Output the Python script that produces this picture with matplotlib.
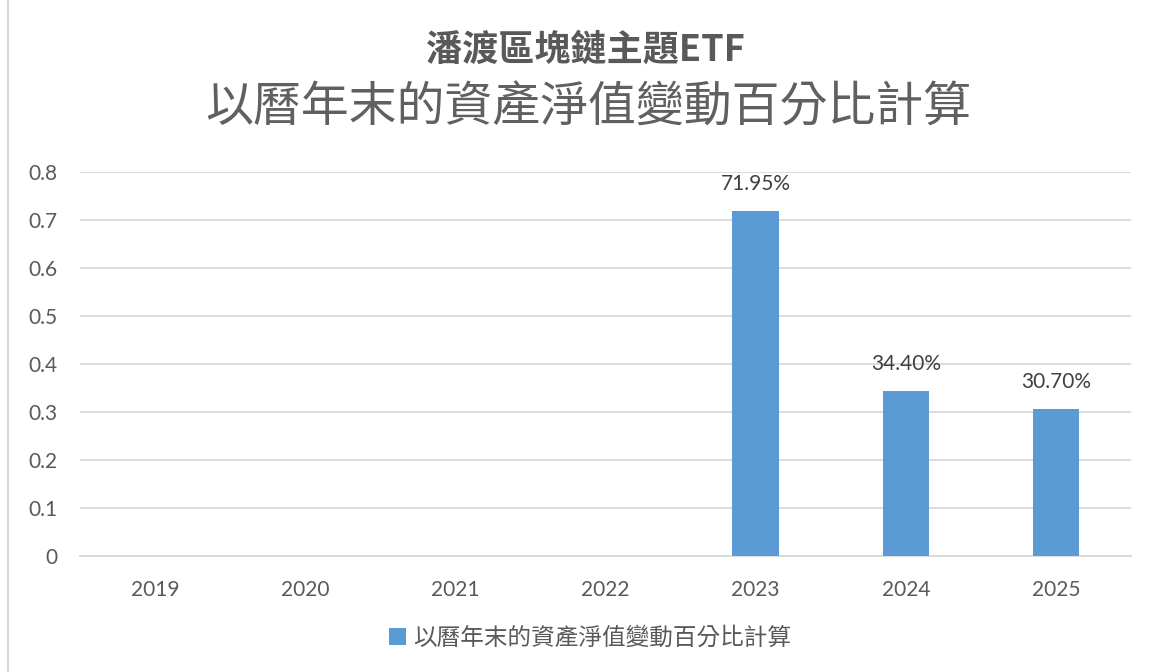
import matplotlib
matplotlib.use("Agg")
import matplotlib.pyplot as plt
from matplotlib.patches import Rectangle

years = ["2019", "2020", "2021", "2022", "2023", "2024", "2025"]
values = [0, 0, 0, 0, 0.7195, 0.344, 0.307]
labels = ["", "", "", "", "71.95%", "34.40%", "30.70%"]
title1 = "潘渡區塊鏈主題ETF"
title2 = "以曆年末的資產淨值變動百分比計算"
series_name = "以曆年末的資產淨值變動百分比計算"
yticks = [0, 0.1, 0.2, 0.3, 0.4, 0.5, 0.6, 0.7, 0.8]

CJK = ["Noto Sans CJK TC", "DejaVu Sans"]
NUM = ["Lato", "DejaVu Sans"]
TXT = "#595959"
W, H = 1151, 672

fig = plt.figure(figsize=(W / 100, H / 100), dpi=100)
fig.patch.set_facecolor("white")

# chart border (left edge visible)
fig.add_artist(Rectangle((8 / W, -0.01), 1.2, 1.02, transform=fig.transFigure,
                         fill=False, edgecolor="#d0d0d0", lw=1.2))

ax = fig.add_axes([80 / W, 1 - 556 / H, (1131 - 80) / W, (556 - 172) / H])
x = list(range(len(years)))
bars = ax.bar(x, values, width=0.31, color="#5b9bd5", zorder=3,
              label=series_name)
ax.set_xlim(-0.5, len(years) - 0.5)
ax.set_ylim(0, 0.8)
ax.set_yticks(yticks)
ax.set_yticklabels([("%g" % v) for v in yticks], fontfamily=NUM, fontsize=15, color=TXT)
ax.set_xticks(x)
ax.set_xticklabels(years, fontfamily=NUM, fontsize=15, color=TXT)
ax.tick_params(axis="both", length=0)
ax.tick_params(axis="y", pad=16)
ax.tick_params(axis="x", pad=17)
ax.grid(axis="y", color="#d9d9d9", lw=1.3, zorder=0)
for s in ["top", "right", "left"]:
    ax.spines[s].set_visible(False)
ax.spines["bottom"].set_color("#d9d9d9")
ax.spines["bottom"].set_linewidth(1.3)

for xi, v, lab in zip(x, values, labels):
    if lab:
        ax.annotate(lab, (xi, v), xytext=(0, 12), textcoords="offset points",
                    ha="center", va="bottom", fontfamily=NUM, fontsize=15, color="#404040")

fig.text(585 / W, 1 - 50 / H, title1, ha="center", va="center", fontfamily=CJK,
         fontsize=26, fontweight="bold", color=TXT)
fig.text(588 / W, 1 - 108 / H, title2, ha="center", va="center", fontfamily=CJK,
         fontsize=34.5, fontweight="light", color="#606060")

leg = fig.legend(handles=[bars], labels=[series_name], loc="center",
                 bbox_to_anchor=(590 / W, 1 - 638 / H), frameon=False,
                 prop={"family": CJK, "size": 17}, handlelength=0.7, handleheight=0.7,
                 handletextpad=0.3)
for t in leg.get_texts():
    t.set_color(TXT)

fig.savefig("out.png", dpi=100, facecolor="white")
